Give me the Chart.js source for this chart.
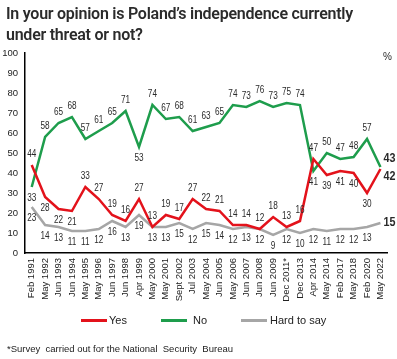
<!DOCTYPE html>
<html>
<head>
<meta charset="utf-8">
<script src="https://cdn.jsdelivr.net/npm/chart.js@4.4.1/dist/chart.umd.min.js"></script>
<style>
  html, body { margin: 0; padding: 0; background: #fff; }
  #wrap { position: relative; width: 397px; height: 359px; overflow: hidden; }
  #title { position: absolute; left: 6px; top: 3px; font: 600 16px Roboto, "Liberation Sans", sans-serif; color: #2b2b2b; line-height: 21px; letter-spacing: -0.25px; }
  #note { position: absolute; left: 7px; top: 343px; font-size: 10px; color: #222; white-space: nowrap; }
  .lg { position: absolute; top: 313px; font-size: 12px; color: #222; white-space: nowrap; line-height: 14px; }
  .sw { position: absolute; top: 319px; height: 3px; width: 26px; }
  canvas { position: absolute; left: 0; top: 0; }
</style>
</head>
<body>
<div id="wrap">
  <canvas id="c" width="397" height="359"></canvas>
  <div id="title">In your opinion is Poland’s independence currently<br>under threat or not?</div>
  <div class="sw" style="left:81px;background:#e3121b"></div><div class="lg" style="left:109px">Yes</div>
  <div class="sw" style="left:161px;background:#1e9d4c"></div><div class="lg" style="left:193px">No</div>
  <div class="sw" style="left:241px;background:#a6a6a6"></div><div class="lg" style="left:270px">Hard to say</div>
  <div id="note">*Survey&nbsp; carried out for the National&nbsp; Security&nbsp; Bureau</div>
</div>
<script>
const categories = ["Feb 1991","May 1992","Jun 1993","Jun 1994","May 1995","May 1996","Jun 1997","Jun 1998","Apr 1999","May 2000","May 2001","Sept 2002","Jul 2003","May 2004","Jun 2005","May 2006","Jun 2007","Jun 2008","Jun 2009","Dec 2011*","Dec 2013","Apr 2014","May 2014","Feb 2017","May 2018","Feb 2020","May 2022"];
const yesValues  = [44,28,22,21,33,27,19,16,27,13,19,17,27,22,21,14,14,12,18,13,16,47,39,41,40,30,42];
const noValues   = [33,58,65,68,57,61,65,71,53,74,67,68,61,63,65,74,73,76,73,75,74,41,50,47,48,57,43];
const hardValues = [23,14,13,11,11,12,16,13,19,13,13,15,12,15,14,12,13,12,9,12,10,12,11,12,12,13,15];
const yTicks = [0,10,20,30,40,50,60,70,80,90,100];

// detect whether a narrow sans is installed
const mc = document.createElement('canvas').getContext('2d');
mc.font = '20px "Liberation Sans Narrow", monospace';
const wN = mc.measureText('Hard to say 1991').width;
mc.font = '20px monospace';
const wM = mc.measureText('Hard to say 1991').width;
const hasNarrow = Math.abs(wN - wM) > 0.5;
const NF = hasNarrow ? '"Liberation Sans Narrow", "Liberation Sans", Arial, sans-serif' : '"Liberation Sans", Arial, sans-serif';
const smallSize = hasNarrow ? 11 : 9.5;
const legSize = hasNarrow ? 12.5 : 11;
document.querySelectorAll('.lg').forEach(e => { e.style.fontFamily = NF; e.style.fontSize = legSize + 'px'; });
document.getElementById('note').style.fontFamily = NF;
document.getElementById('note').style.fontSize = (hasNarrow ? 10.5 : 9.5) + 'px';

// label placement: a = above, b = below, r = right (last point)
const place = {
  0: ["a","b","b","b","a","a","a","a","a","a","a","a","a","a","a","a","a","a","a","a","a","a","b","b","b","b","rb"],
  1: ["b","a","a","a","a","a","a","a","b","a","a","a","a","a","a","a","a","a","a","a","a","b","a","a","a","a","ra"],
  2: ["b","b","b","b","b","b","b","b","b","b","b","b","b","b","b","b","b","b","b","b","b","b","b","b","b","b","r"]
};

const labelPlugin = {
  id: 'pointLabels',
  afterDatasetsDraw(chart) {
    const ctx = chart.ctx;
    ctx.save();
    ctx.fillStyle = '#2a2a2a';
    ctx.textBaseline = 'middle';
    const sx = hasNarrow ? 1 : 0.82;
    chart.data.datasets.forEach((ds, di) => {
      const meta = chart.getDatasetMeta(di);
      meta.data.forEach((pt, i) => {
        const p = place[di][i];
        let x = pt.x, y = pt.y;
        ctx.save();
        if (p[0] === 'r') {
          ctx.font = 'bold 12.5px ' + NF;
          ctx.textAlign = 'left';
          x += 3;
          if (p === 'ra') y -= 8; else if (p === 'rb') y += 8;
        } else {
          ctx.font = '10px ' + NF;
          ctx.textAlign = 'center';
          y += (p === 'a') ? -11 : 11;
        }
        ctx.translate(x, y);
        ctx.scale(p[0] === 'r' ? (hasNarrow ? 1 : 0.86) : sx, 1);
        ctx.fillText(String(ds.data[i]), 0, 0);
        ctx.restore();
      });
    });
    ctx.font = '10px "Liberation Sans", Arial, sans-serif';
    ctx.textAlign = 'right';
    ctx.fillText('%', 392, chart.chartArea.top + 4);
    ctx.restore();
  }
};

new Chart(document.getElementById('c'), {
  type: 'line',
  data: {
    labels: categories,
    datasets: [
      { label: 'Yes', data: yesValues, borderColor: '#e3121b', backgroundColor: '#e3121b', borderWidth: 2.5 },
      { label: 'No', data: noValues, borderColor: '#1e9d4c', backgroundColor: '#1e9d4c', borderWidth: 2.5 },
      { label: 'Hard to say', data: hardValues, borderColor: '#a6a6a6', backgroundColor: '#a6a6a6', borderWidth: 2.5 }
    ]
  },
  options: {
    responsive: false,
    animation: false,
    devicePixelRatio: 1,
    elements: { point: { radius: 0 }, line: { tension: 0 } },
    layout: { padding: { top: 53, left: 0, right: 8, bottom: 56 } },
    plugins: {
      legend: { display: false },
      tooltip: { enabled: false },
      title: { display: false }
    },
    scales: {
      x: {
        offset: true,
        afterFit(s) { s.height = 50; },
        grid: { display: false, drawTicks: false },
        border: { color: '#000', width: 1.5 },
        ticks: { autoSkip: false, maxRotation: 90, minRotation: 90, padding: 5, color: '#222',
                 font: { size: smallSize, family: NF } }
      },
      y: {
        min: 0, max: 100,
        afterBuildTicks(s) { s.ticks = yTicks.map(v => ({ value: v })); },
        afterFit(s) { s.width = 25; },
        grid: { display: false, drawTicks: false },
        border: { color: '#000', width: 1.5 },
        ticks: { padding: 7, color: '#222', font: { size: smallSize, family: NF } }
      }
    }
  },
  plugins: [labelPlugin]
});
</script>
</body>
</html>
